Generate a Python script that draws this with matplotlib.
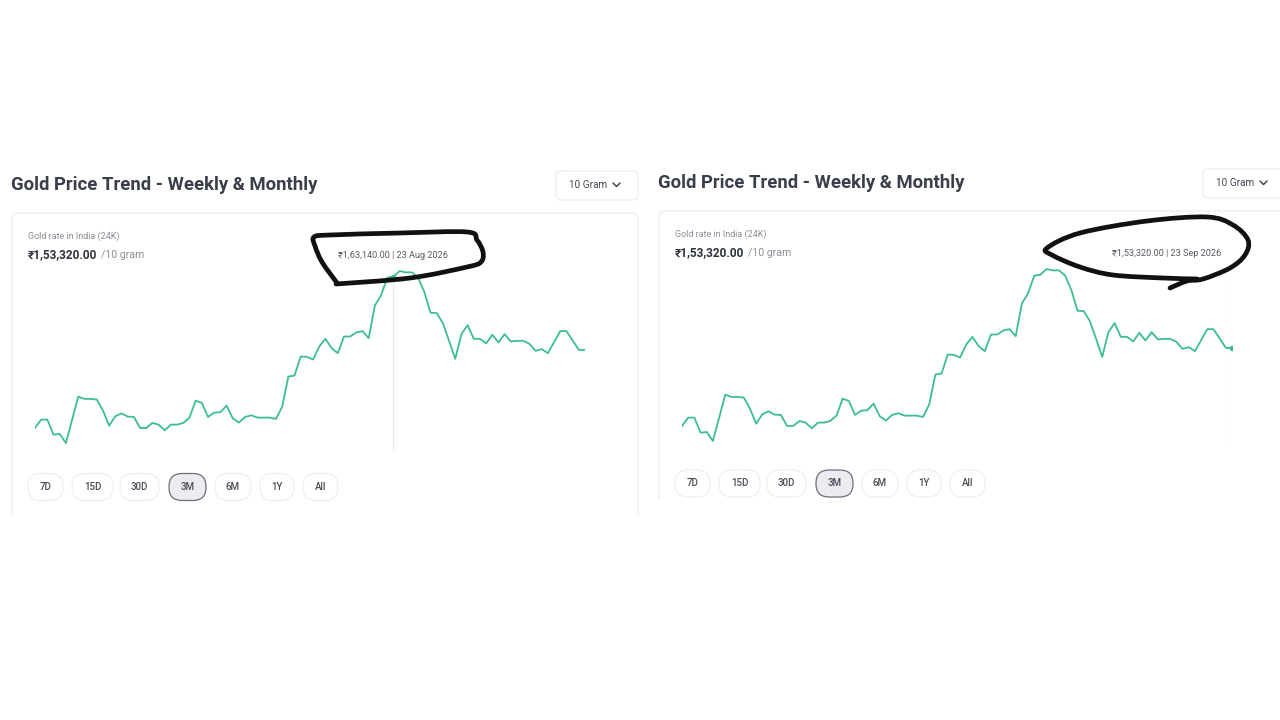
import datetime
import numpy as np
import matplotlib
matplotlib.use('Agg')
import matplotlib.pyplot as plt
from matplotlib.patches import FancyBboxPatch, PathPatch, Rectangle
from matplotlib.path import Path

plt.rcParams['font.family'] = ['Roboto', 'DejaVu Sans']

# daily 24K gold rate in India, Rs per 10 gram (3M view)
start_date = datetime.date(2026, 6, 26)
prices = [142830, 143950, 143950, 141930, 142020, 140810, 143900, 147040, 146730, 146730,
          146640, 145160, 143140, 144400, 144800, 144350, 144310, 142830, 142830, 143500,
          143280, 142510, 143280, 143280, 143500, 144220, 146500, 146190, 144310, 144890,
          144940, 145830, 144130, 143550, 144310, 144530, 144220, 144220, 144220, 144040,
          145700, 149730, 149870, 152420, 152380, 152020, 153770, 154800, 153540, 152870,
          155110, 155110, 155650, 155830, 154890, 159280, 160630, 163010, 163140, 163900,
          163720, 163720, 163010, 161080, 158300, 158250, 156910, 154530, 152110, 155430,
          156640, 154800, 154800, 154170, 155340, 154310, 155430, 154440, 154530, 154530,
          154130, 153190, 153410, 152870, 154350, 155830, 155830, 154580, 153320, 153320]

title = 'Gold Price Trend - Weekly & Monthly'
unit_choice = '10 Gram'
subtitle = 'Gold rate in India (24K)'
per_unit = '/10 gram'
ranges = ['7D', '15D', '30D', '3M', '6M', '1Y', 'All']
selected_range = '3M'
hover_index = [58, 89]   # left screenshot, right screenshot

LINE = '#3dbd95'
W, H = 1280, 720


def inr(v):
    ''' Indian digit grouping: 163140 -> 1,63,140.00 '''
    s = '%d' % int(v)
    head, tail = s[:-3], s[-3:]
    groups = []
    while len(head) > 2:
        groups.insert(0, head[-2:])
        head = head[:-2]
    if head:
        groups.insert(0, head)
    return '\u20b9' + ','.join(groups + [tail]) + '.00'


def smooth_path(pts):
    ''' catmull-rom style bezier through hand picked points (for the pen scribbles) '''
    pts = np.asarray(pts, float)
    verts = [pts[0]]
    codes = [Path.MOVETO]
    for i in range(len(pts) - 1):
        p0 = pts[max(i - 1, 0)]
        p1, p2 = pts[i], pts[i + 1]
        p3 = pts[min(i + 2, len(pts) - 1)]
        verts += [p1 + (p2 - p0) / 6.0, p2 - (p3 - p1) / 6.0, p2]
        codes += [Path.CURVE4] * 3
    return Path(verts, codes)


fig = plt.figure(figsize=(12.8, 7.2), dpi=100)
fig.patch.set_facecolor('white')
renderer = fig.canvas.get_renderer()


def fit_text(ax, x, y, s, width, **kw):
    ''' place text and scale its size so it spans `width` pixels like the screenshot '''
    t = ax.text(x, y, s, fontsize=10, **kw)
    w = t.get_window_extent(renderer).width
    t.set_fontsize(10 * width / w)
    return t


# background axes in pixel coordinates
bg = fig.add_axes([0, 0, 1, 1], zorder=0)
bg.set_xlim(0, W)
bg.set_ylim(H, 0)
bg.axis('off')

fg = fig.add_axes([0, 0, 1, 1], zorder=3)
fg.set_xlim(0, W)
fg.set_ylim(H, 0)
fg.axis('off')
fg.patch.set_alpha(0)

pill_x = [(28, 63), (72, 113), (120, 159), (169, 206), (215, 251), (260, 294), (303, 338)]


def draw_panel(dx, dy, crop_y, hover):
    # header
    fit_text(bg, 11 + dx, 185 + dy, title, 305, fontweight='bold',
             color='#3a3e4a', va='center', ha='left')
    bg.add_patch(FancyBboxPatch((556 + dx, 171 + dy), 82, 29,
                                boxstyle='round,pad=0,rounding_size=5',
                                fc='white', ec='#ececee', lw=0.8))
    fit_text(bg, 569 + dx, 185 + dy, unit_choice, 38, color='#454955',
             va='center', ha='left')
    bg.plot([613 + dx, 616.5 + dx, 620 + dx], [183 + dy, 186.5 + dy, 183 + dy],
            color='#454955', lw=1.1, solid_capstyle='round')

    # card
    bg.add_patch(FancyBboxPatch((12 + dx, 213 + dy), 626, 360,
                                boxstyle='round,pad=0,rounding_size=7',
                                fc='white', ec='#ebebee', lw=0.8))
    bg.add_patch(Rectangle((dx, crop_y), 645, 200, fc='white', ec='none', zorder=5))

    fit_text(bg, 28 + dx, 236 + dy, subtitle, 92, color='#8b8f97',
             va='center', ha='left')
    fit_text(bg, 28 + dx, 255 + dy, inr(prices[-1]), 70, fontweight='bold',
             color='#2f333d', va='center', ha='left')
    fit_text(bg, 101 + dx, 255.5 + dy, per_unit, 43, color='#8b8f97',
             va='center', ha='left')

    # line chart
    x0, x1, y0, y1 = 35 + dx, 585 + dx, 260 + dy, 455 + dy
    ax = fig.add_axes([x0 / W, 1 - y1 / H, (x1 - x0) / W, (y1 - y0) / H], zorder=1)
    ax.patch.set_alpha(0)
    ax.axis('off')
    xs = np.arange(len(prices))
    ax.set_xlim(0, len(prices) - 1)
    ax.set_ylim(139200, 165380)
    ax.axvline(hover, ymin=0.03, ymax=0.95, color='#e9e9ec', lw=0.8, zorder=1)
    ax.plot(xs, prices, color=LINE, lw=1.3, solid_joinstyle='round', zorder=2)
    ax.plot([hover], [prices[hover]], 'o', ms=3, color=LINE, zorder=3)

    d = start_date + datetime.timedelta(days=hover)
    return '%s | %d %s' % (inr(prices[hover]), d.day, d.strftime('%b %Y'))


def draw_pills(dx, cy):
    for (a, b), lab in zip(pill_x, ranges):
        sel = lab == selected_range
        bg.add_patch(FancyBboxPatch((a + dx, cy - 13.5), b - a, 27,
                                    boxstyle='round,pad=0,rounding_size=13',
                                    fc='#ececf0' if sel else 'white',
                                    ec='#6c707a' if sel else '#eeeef1',
                                    lw=0.9 if sel else 0.8))
        bg.text((a + b) / 2 + dx, cy, lab, fontsize=7, fontweight='medium',
                color='#474b55', ha='center', va='center')


tip_left = draw_panel(0, 0, 515, hover_index[0])
draw_pills(0, 487)
fit_text(bg, 338, 256, tip_left, 109, color='#565a63', ha='left', va='center')

tip_right = draw_panel(647, -2, 499, hover_index[1])
draw_pills(647, 483.5)
fit_text(bg, 1221, 254, tip_right, 109, color='#565a63', ha='right', va='center')

# pen scribbles drawn over the screenshots
left_loop = [(337, 283), (322, 262), (315, 246), (314, 237), (330, 235), (400, 233),
             (467, 232), (477, 240), (483, 252), (481, 262), (467, 267), (410, 278),
             (336, 284)]
right_loop = [(1170, 288), (1187, 281), (1203, 279), (1230, 268), (1245, 255),
              (1248, 240), (1233, 225), (1207, 217), (1147, 221), (1080, 233),
              (1047, 248), (1052, 255), (1080, 267), (1113, 275), (1163, 278),
              (1197, 279)]
for pts in (left_loop, right_loop):
    fg.add_patch(PathPatch(smooth_path(pts), fc='none', ec='#111111', lw=3.4,
                           capstyle='round', joinstyle='round'))

fig.savefig('out.png', dpi=100, facecolor='white')
